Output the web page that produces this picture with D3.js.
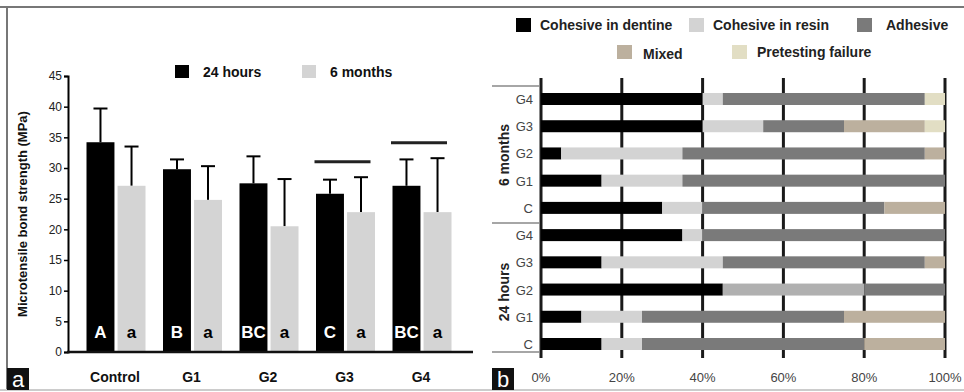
<!DOCTYPE html>
<html>
<head>
<meta charset="utf-8">
<script src="https://cdn.jsdelivr.net/npm/d3@7"></script>
<style>
  body { margin: 0; background: #fff; }
  svg { display: block; font-family: "Liberation Sans", Arial, sans-serif; }
</style>
</head>
<body>
<div id="chart"></div>
<script>
// panel a data
const groups = ["Control", "G1", "G2", "G3", "G4"];
const series = ["24 hours", "6 months"];
const mean24h = [34.2, 29.8, 27.5, 25.8, 27.1];
const sd24h = [5.5, 1.6, 4.4, 2.3, 4.3];
const mean6m = [27.1, 24.8, 20.5, 22.8, 22.8];
const sd6m = [6.4, 5.5, 7.7, 5.7, 8.8];
const letters24h = ["A", "B", "BC", "C", "BC"];
const letters6m = ["a", "a", "a", "a", "a"];
const yTicks = [0, 5, 10, 15, 20, 25, 30, 35, 40, 45];
// horizontal bars above G3 and G4
const barLineGroups = ["G3", "G4"];
const barLineValues = [31.0, 34.1];

// panel b data (percent of failures)
const modes = ["Cohesive in dentine", "Cohesive in resin", "Adhesive", "Mixed", "Pretesting failure"];
const rows = ["6m-G4", "6m-G3", "6m-G2", "6m-G1", "6m-C", "24h-G4", "24h-G3", "24h-G2", "24h-G1", "24h-C"];
const rowLabels = ["G4", "G3", "G2", "G1", "C", "G4", "G3", "G2", "G1", "C"];
const dentine = [40, 40, 5, 15, 30, 35, 15, 45, 10, 15];
const resin = [5, 15, 30, 20, 10, 5, 30, 35, 15, 10];
const adhesive = [50, 20, 60, 65, 45, 60, 50, 20, 50, 55];
const mixed = [0, 20, 5, 0, 15, 0, 5, 0, 25, 20];
const pretest = [5, 5, 0, 0, 0, 0, 0, 0, 0, 0];
const pctTicks = [0, 20, 40, 60, 80, 100];

const W = 964, H = 392;
const svg = d3.select("#chart").append("svg").attr("width", W).attr("height", H);

// frame
svg.append("line").attr("x1", 0).attr("x2", W).attr("y1", 7).attr("y2", 7)
  .attr("stroke", "#777").attr("stroke-width", 2);
svg.append("line").attr("x1", 7).attr("x2", 7).attr("y1", 7).attr("y2", 390)
  .attr("stroke", "#777").attr("stroke-width", 2);
svg.append("line").attr("x1", 0).attr("x2", W).attr("y1", 390).attr("y2", 390)
  .attr("stroke", "#ccc").attr("stroke-width", 2);

// ---------- panel a ----------
const y = d3.scaleLinear().domain([0, 45]).range([352, 76]);
const x0 = d3.scaleBand().domain(groups).range([77.75, 460.25]);
const x1 = d3.scaleBand().domain(series).range([-29.5, 29.5]).paddingInner(0.1);
const barColor = { "24 hours": "#000", "6 months": "#d4d4d4" };

const yAxis = svg.append("g").attr("transform", "translate(68,0)")
  .call(d3.axisLeft(y).tickValues(yTicks).tickSize(4).tickPadding(2));
yAxis.select(".domain").attr("stroke-width", 2);
yAxis.selectAll(".tick line").attr("stroke-width", 1.5);
yAxis.selectAll("text").attr("font-size", 12).attr("fill", "#222")
  .attr("font-family", "Liberation Sans, Arial, sans-serif");

const barData = [];
groups.forEach((g, i) => {
  barData.push({ g, s: "24 hours", v: mean24h[i], sd: sd24h[i], l: letters24h[i] });
  barData.push({ g, s: "6 months", v: mean6m[i], sd: sd6m[i], l: letters6m[i] });
});
const groupMid = g => x0(g) + x0.bandwidth() / 2;
const bx = d => groupMid(d.g) + x1(d.s);
const mid = d => bx(d) + x1.bandwidth() / 2;

// error bars (upper only)
svg.selectAll("line.err").data(barData).enter().append("line")
  .attr("x1", mid).attr("x2", mid)
  .attr("y1", d => y(d.v)).attr("y2", d => y(d.v + d.sd))
  .attr("stroke", "#000").attr("stroke-width", 2);
svg.selectAll("line.cap").data(barData).enter().append("line")
  .attr("x1", d => mid(d) - 7).attr("x2", d => mid(d) + 7)
  .attr("y1", d => y(d.v + d.sd)).attr("y2", d => y(d.v + d.sd))
  .attr("stroke", "#000").attr("stroke-width", 2);

svg.selectAll("rect.bar").data(barData).enter().append("rect")
  .attr("x", bx).attr("y", d => y(d.v))
  .attr("width", x1.bandwidth()).attr("height", d => y(0) - y(d.v))
  .attr("fill", d => barColor[d.s]);

svg.selectAll("text.let").data(barData).enter().append("text")
  .attr("x", mid).attr("y", 338)
  .attr("text-anchor", "middle").attr("font-size", 17).attr("font-weight", "bold")
  .attr("fill", d => d.s === "24 hours" ? "#fff" : "#000")
  .text(d => d.l);

// significance lines
barLineGroups.forEach((g, i) => {
  svg.append("line")
    .attr("x1", groupMid(g) - 31).attr("x2", groupMid(g) + 25)
    .attr("y1", y(barLineValues[i])).attr("y2", y(barLineValues[i]))
    .attr("stroke", "#222").attr("stroke-width", 3);
});

// x axis
svg.append("line").attr("x1", 67).attr("x2", 473).attr("y1", y(0)).attr("y2", y(0))
  .attr("stroke", "#111").attr("stroke-width", 2.5);
svg.selectAll("text.cat").data(groups).enter().append("text")
  .attr("x", d => groupMid(d) - 1).attr("y", 382)
  .attr("text-anchor", "middle").attr("font-size", 14).attr("font-weight", "bold")
  .attr("fill", "#111").text(d => d);

svg.append("text").attr("transform", "translate(27,214) rotate(-90)")
  .attr("text-anchor", "middle").attr("font-size", 13).attr("font-weight", "bold")
  .attr("fill", "#111").text("Microtensile bond strength (MPa)");

// legend a
const legA = [[175, "24 hours"], [302, "6 months"]];
legA.forEach(([lx, s]) => {
  svg.append("rect").attr("x", lx).attr("y", 65).attr("width", 14).attr("height", 13).attr("fill", barColor[s]);
  svg.append("text").attr("x", lx + 28).attr("y", 77).attr("font-size", 14)
    .attr("font-weight", "bold").attr("fill", "#111").text(s);
});

// ---------- panel b ----------
const xp = d3.scaleLinear().domain([0, 100]).range([541, 945]);
const yp = d3.scalePoint().domain(rows).range([99, 344]);
const modeColor = ["#000", "#d3d3d3", "#7a7a7a", "#bcb09e", "#e2dec4"];
const values = [dentine, resin, adhesive, mixed, pretest];

// grid lines drawn first, bars cover them
svg.selectAll("line.grid").data(pctTicks).enter().append("line")
  .attr("x1", d => xp(d)).attr("x2", d => xp(d)).attr("y1", 78).attr("y2", 358)
  .attr("stroke", "#1a1a1a").attr("stroke-width", 3);

const segs = [];
rows.forEach((r, i) => {
  let acc = 0;
  modes.forEach((m, k) => {
    const v = values[k][i];
    if (v > 0) {
      let col = modeColor[k];
      if (r === "24h-G2" && k === 1) col = "#b0b0b0";
      segs.push({ r, a: acc, b: acc + v, col });
    }
    acc += v;
  });
});
svg.selectAll("rect.seg").data(segs).enter().append("rect")
  .attr("x", d => xp(d.a)).attr("width", d => xp(d.b) - xp(d.a))
  .attr("y", d => yp(d.r) - 6).attr("height", 12)
  .attr("fill", d => d.col);

svg.selectAll("text.row").data(rows).enter().append("text")
  .attr("x", 533).attr("y", d => yp(d) + 5).attr("text-anchor", "end")
  .attr("font-size", 13).attr("fill", "#444")
  .text((d, i) => rowLabels[i]);

[86, 223, 352].forEach(ly => {
  svg.append("line").attr("x1", 492).attr("x2", 540).attr("y1", ly).attr("y2", ly)
    .attr("stroke", "#888").attr("stroke-width", 1.5);
});
svg.append("text").attr("transform", "translate(509,155) rotate(-90)")
  .attr("text-anchor", "middle").attr("font-size", 14).attr("font-weight", "bold")
  .attr("fill", "#222").text("6 months");
svg.append("text").attr("transform", "translate(509,292) rotate(-90)")
  .attr("text-anchor", "middle").attr("font-size", 14).attr("font-weight", "bold")
  .attr("fill", "#222").text("24 hours");

svg.selectAll("text.pct").data(pctTicks).enter().append("text")
  .attr("x", d => xp(d)).attr("y", 382).attr("text-anchor", "middle")
  .attr("font-size", 13).attr("fill", "#444").text(d => d + "%");

// legend b
const legB = [[516, 18, 0], [689, 18, 1], [857, 18, 2], [617, 45, 3], [732, 45, 4]];
const legTextX = [540, 713, 886, 643, 757];
legB.forEach(([lx, ly, k], i) => {
  svg.append("rect").attr("x", lx).attr("y", ly).attr("width", 15).attr("height", 14).attr("fill", modeColor[k]);
  svg.append("text").attr("x", legTextX[i]).attr("y", ly + (k === 3 ? 14 : 12)).attr("font-size", 14)
    .attr("font-weight", "bold").attr("fill", "#222").text(modes[k]);
});

// panel letters
[[7, "a"], [492, "b"]].forEach(([lx, t]) => {
  svg.append("rect").attr("x", lx).attr("y", 368).attr("width", 22).attr("height", 22).attr("fill", "#111");
  svg.append("text").attr("x", lx + 11).attr("y", 387).attr("text-anchor", "middle")
    .attr("font-size", 22).attr("fill", "#fff").text(t);
});
</script>
</body>
</html>
